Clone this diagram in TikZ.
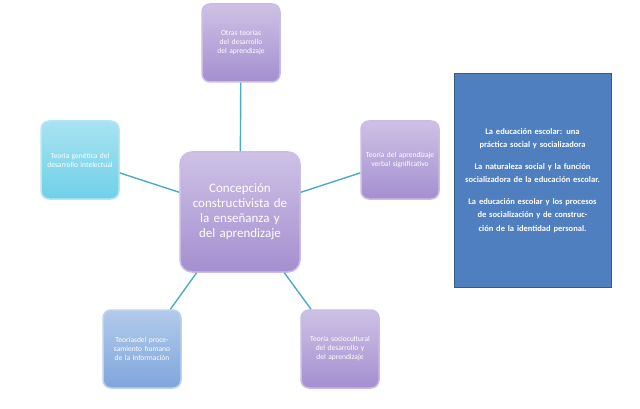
\documentclass[tikz,border=0pt]{standalone}
\usepackage{fontspec}
\setmainfont{Carlito}
\usetikzlibrary{positioning}
\definecolor{lila}{HTML}{A48FD0}
\definecolor{lilaborde}{HTML}{C9BCE6}
\definecolor{celeste}{HTML}{6FD0E8}
\definecolor{azulclaro}{HTML}{7FA6DC}
\definecolor{azulcaja}{HTML}{4F7FBE}
\definecolor{linea}{HTML}{4BACC6}
\tikzset{
  rama/.style={draw=lilaborde, line width=1.5pt, rounded corners=8pt, top color=lila!55, bottom color=lila,
    text=white, font=\fontsize{7.5}{9}\selectfont, align=center, minimum width=78pt, minimum height=78pt, text width=70pt, inner sep=2pt},
  enlace/.style={draw=linea, line width=1.4pt}
}
\begin{document}
\begin{tikzpicture}[x=1pt,y=-1pt]
\useasboundingbox (0,0) rectangle (640,409);
\node[rama, minimum width=120pt, minimum height=120pt, text width=110pt, font=\fontsize{13}{15}\selectfont, rounded corners=12pt] (centro) at (240,212) {Concepción constructivista de la enseñanza y del aprendizaje};
\node[rama] (otras) at (241,43) {Otras teorías del desarrollo del aprendizaje};
\node[rama] (verbal) at (400,160) {Teoría del aprendizaje verbal significativo};
\node[rama, top color=celeste!60, bottom color=celeste, draw=celeste!50] (genetica) at (80,160) {Teoria genética del desarrollo intelectual};
\node[rama, top color=azulclaro!60, bottom color=azulclaro, draw=azulclaro!50] (procesamiento) at (142,349) {Teoríasdel procesamiento humano de la información};
\node[rama] (socio) at (340,349) {Teoría sociocultural del desarrollo y del aprendizaje};
\foreach \rama in {otras,verbal,genetica,procesamiento,socio}
  \draw[enlace] (centro) -- (\rama);
\node[draw=azulcaja!70!black, fill=azulcaja, line width=1pt, minimum width=157pt, minimum height=213pt, text width=135pt, align=center,
  text=white, font=\bfseries\fontsize{8.5}{13.5}\selectfont] (caja) at (532.5,180.5) {La educación escolar: una práctica social y socializadora\\[8pt]
La naturaleza social y la función socializadora de la educación escolar.\\[8pt]
La educación escolar y los procesos de socialización y de construcción de la identidad personal.};
\end{tikzpicture}
\end{document}
